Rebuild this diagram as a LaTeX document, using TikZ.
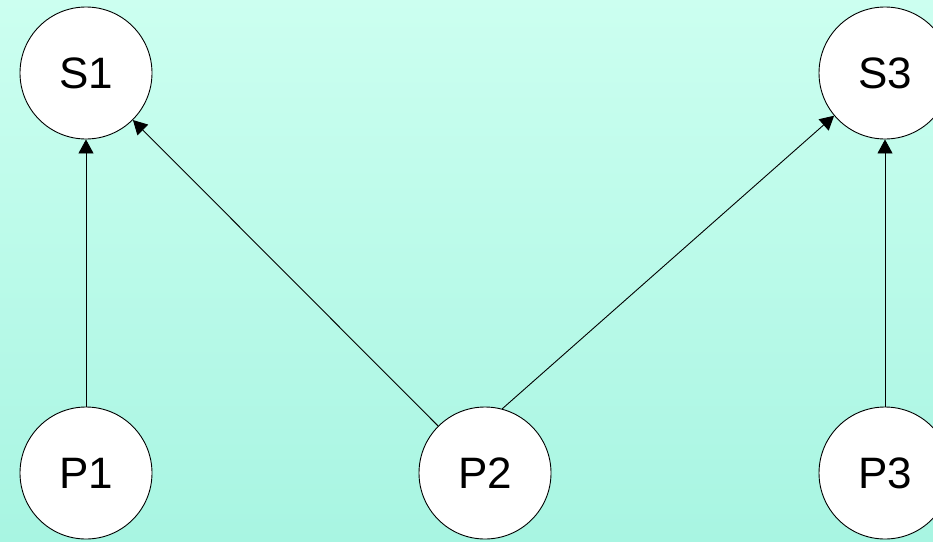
\documentclass[tikz,border=0pt]{standalone}
\usepackage{fontspec}
\setmainfont{Liberation Sans}
\usetikzlibrary{arrows.meta}

\definecolor{bgtop}{RGB}{204,255,240}
\definecolor{bgbottom}{RGB}{168,245,226}

\begin{document}
\begin{tikzpicture}[x=1pt,y=1pt,yscale=-1,xscale=1,
  state/.style={circle,draw=black,line width=0.9pt,fill=white,minimum size=132pt,inner sep=0pt,font=\fontsize{44}{48}\selectfont},
  link/.style={draw=black,line width=0.9pt,-{Triangle[length=14pt,width=15pt]}}]
%Background
\clip (0,0) rectangle (933,541);
\shade [top color=bgtop,bottom color=bgbottom] (0,0) rectangle (933,541);
%Shape: Circles
\node [state] (s1) at (86,73) {S1};
\node [state] (s3) at (885,73) {S3};
\node [state] (p1) at (86,473) {P1};
\node [state] (p2) at (485,473) {P2};
\node [state] (p3) at (885,473) {P3};
%Straight Lines
\draw [link] (p1) -- (s1);
\draw [link] (p2) -- (s1);
\draw [link] (p2.75) -- (s3.220);
\draw [link] (p3) -- (s3);
\end{tikzpicture}
\end{document}
